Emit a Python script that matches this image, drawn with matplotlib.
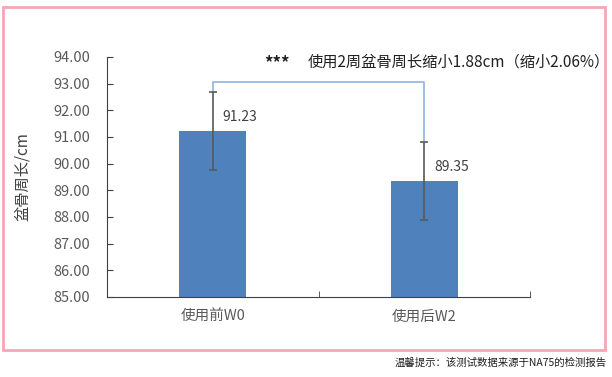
import matplotlib
matplotlib.use("Agg")
import matplotlib.pyplot as plt
from matplotlib.patches import Rectangle

plt.rcParams['font.family'] = ['Noto Sans CJK SC', 'DejaVu Sans']

# data
categories = ['使用前W0', '使用后W2']
means = [91.23, 89.35]
errors = [1.47, 1.48]
bracket_level = 93.07
note = '使用2周盆骨周长缩小1.88cm（缩小2.06%）'

grey = '#595959'
bar_color = '#4F81BD'

fig = plt.figure(figsize=(6.12, 3.77), dpi=100)
ax = fig.add_axes([107/612, 1 - 297/377, (530 - 107)/612, (297 - 57)/377])

x = list(range(len(categories)))
ax.bar(x, [m - 85 for m in means], bottom=85, width=0.317, color=bar_color, zorder=2)
ax.errorbar(x, means, yerr=errors, fmt='none', ecolor=grey, elinewidth=1.2,
            capsize=3, capthick=1.2, zorder=3)

# value labels
for xi, m in zip(x, means):
    ax.text(xi + 0.13, m + 0.25, f'{m:.2f}', color='#404040', fontsize=10,
            ha='center', va='bottom', zorder=4)

# significance bracket
ax.plot([x[0], x[0], x[1], x[1]],
        [means[0] + errors[0], bracket_level, bracket_level, means[1] + errors[1]],
        color='#8EB4E3', lw=1.2, zorder=1)

ax.set_xlim(-0.5, 1.5)
ax.set_ylim(85, 94)
ax.set_yticks([85 + i for i in range(10)])
ax.set_yticklabels([f'{85 + i:.2f}' for i in range(10)])
ax.set_xticks(x)
ax.set_xticklabels(categories)
ax.set_xticks([-0.5, 0.5, 1.5], minor=True)
ax.tick_params(axis='x', which='major', length=0, pad=9, labelsize=10.5, labelcolor=grey)
ax.tick_params(axis='x', which='minor', direction='in', length=4, color='#404040')
ax.tick_params(axis='y', direction='in', length=4, color='#404040', labelsize=10.5,
               labelcolor=grey, pad=12)

for side in ['top', 'right']:
    ax.spines[side].set_visible(False)
ax.spines['left'].set_color('#404040')
ax.spines['bottom'].set_color('#404040')

ax.set_ylabel('盆骨周长/cm', fontsize=11, color='#404040', labelpad=16)

fig.text(264/612, 1 - 63/377, '***', fontsize=12, fontweight='bold', color='#202020',
         va='center', ha='left')
fig.text(308/612, 1 - 62/377, note, fontsize=11, color='#202020', va='center', ha='left')

fig.patches.append(Rectangle((3/612, 1 - 350/377), (605 - 3)/612, (350 - 7)/377,
                             transform=fig.transFigure, fill=False,
                             edgecolor='#F4A6B6', lw=2))

fig.text(607/612, 1 - 363/377, '温馨提示：该测试数据来源于NA75的检测报告', fontsize=7.5,
         color='#202020', ha='right', va='center')

fig.savefig('out.png', dpi=100)
